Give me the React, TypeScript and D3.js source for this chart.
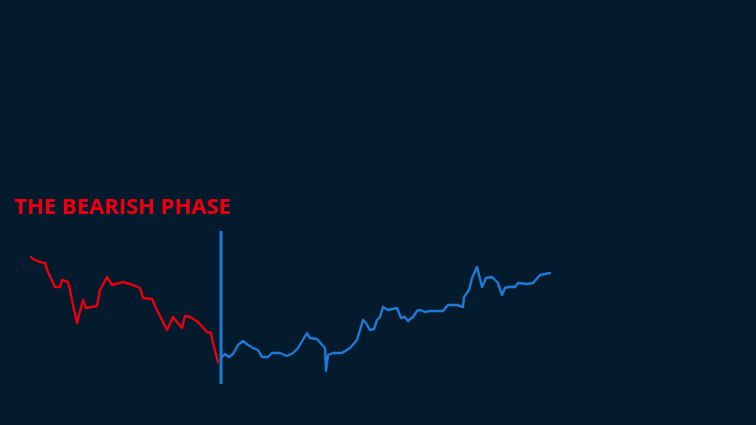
import React from "react";
import * as d3 from "d3";

const W = 756;
const H = 425;

// Bearish phase (day index, price)
const redDays = [0, 2, 9, 14, 17, 24, 29, 31, 37, 39, 42, 46, 52, 55, 66, 69, 76, 81, 92, 102, 109, 112, 121, 126, 136, 142, 146, 151, 154, 159, 167, 176, 180, 182, 187];
const redPrices = [143, 141, 138, 137, 128, 113, 113, 120, 118, 110, 95, 77, 100, 92, 94, 110, 123, 115, 118, 115, 112, 102, 101, 90, 70, 83, 78, 72, 84, 83, 78, 68, 67, 57, 38];

// Recovery phase (day index, price)
const blueDays = [191, 194, 198, 202, 207, 212, 217, 222, 227, 231, 237, 241, 249, 256, 262, 267, 276, 279, 286, 294, 295, 297, 302, 311, 319, 326, 332, 335, 339, 343, 346, 349, 352, 357, 366, 370, 374, 377, 382, 386, 389, 394, 399, 412, 417, 426, 432, 433, 438, 441, 446, 451, 455, 461, 467, 471, 474, 477, 484, 487, 496, 502, 509, 519];
const bluePrices = [43, 46, 43, 46, 55, 59, 55, 52, 50, 43, 43, 47, 47, 44, 47, 52, 67, 62, 61, 52, 29, 45, 47, 47, 52, 60, 80, 77, 70, 71, 80, 83, 93, 90, 92, 82, 83, 79, 83, 89, 90, 88, 89, 89, 95, 95, 93, 103, 110, 122, 133, 113, 122, 123, 117, 105, 112, 113, 113, 117, 116, 117, 125, 127];

const dividerDay = 190;
const dividerRange = [16, 169];
const title = "THE BEARISH PHASE";

export default function App() {
  const x = d3.scaleLinear().domain([0, 519]).range([31, 550]);
  const y = d3.scaleLinear().domain([0, 200]).range([400, 200]);

  const line = d3
    .line<[number, number]>()
    .x((d) => x(d[0]))
    .y((d) => y(d[1]));

  const redData: [number, number][] = redDays.map((d, i) => [d, redPrices[i]]);
  const blueData: [number, number][] = blueDays.map((d, i) => [d, bluePrices[i]]);

  return (
    <div style={{ position: "fixed", left: 0, top: 0, width: W, height: H }}>
      <svg width={W} height={H} style={{ display: "block" }}>
        <rect x={0} y={0} width={W} height={H} fill="#041b2d" />
        <text
          x={14}
          y={214}
          fill="#e8000f"
          fontFamily="'Open Sans', sans-serif"
          fontWeight={700}
          fontSize={22}
        >
          {title}
        </text>
        <path
          d={line(redData) || ""}
          fill="none"
          stroke="#e8000f"
          strokeWidth={2.4}
          strokeLinejoin="round"
          strokeLinecap="round"
        />
        <path
          d={line(blueData) || ""}
          fill="none"
          stroke="#1b7bd6"
          strokeWidth={2.4}
          strokeLinejoin="round"
          strokeLinecap="round"
        />
        <line
          x1={x(dividerDay)}
          x2={x(dividerDay)}
          y1={y(dividerRange[0])}
          y2={y(dividerRange[1])}
          stroke="#1b7bd6"
          strokeWidth={3}
        />
      </svg>
    </div>
  );
}
